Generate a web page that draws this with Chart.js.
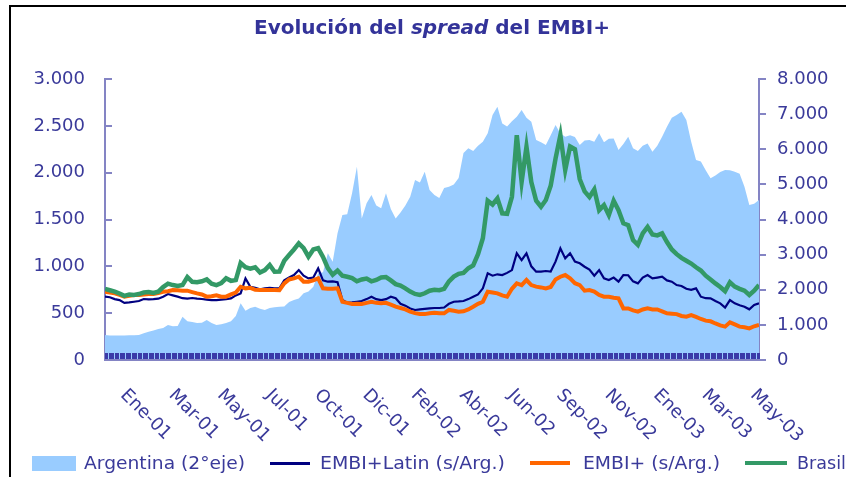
<!DOCTYPE html>
<html>
<head>
<meta charset="utf-8">
<script src="https://cdn.jsdelivr.net/npm/chart.js@4.4.1/dist/chart.umd.min.js"></script>
<style>
  html, body { margin:0; padding:0; background:#fff; overflow:hidden; }
  #wrap { position:relative; width:846px; height:477px; overflow:hidden; }
  #frame { position:absolute; left:9px; top:5px; width:900px; height:600px; border-left:2px solid #000; border-top:2px solid #000; }
  #chartBox { position:absolute; left:0; top:0; width:846px; height:477px; }
  #title { position:absolute; left:0; width:864px; top:15px; text-align:center; font:bold 20px "DejaVu Sans", sans-serif; color:#333399; white-space:nowrap; }
  .lg { position:absolute; font:18px "DejaVu Sans", sans-serif; color:#3a3a9a; white-space:nowrap; top:452px; line-height:22px; transform-origin:0 50%; }
  .sw { position:absolute; }
</style>
</head>
<body>
<div id="wrap">
  <div id="frame"></div>
  <div id="chartBox"><canvas id="c"></canvas></div>
  <div id="title">Evolución del <i>spread</i> del EMBI+</div>
  <div class="sw" style="left:32px;top:456px;width:44px;height:15px;background:#99ccff"></div>
  <span class="lg" data-w="161" style="left:84px">Argentina (2°eje)</span>
  <div class="sw" style="left:270px;top:462px;width:40px;height:3px;background:#000080"></div>
  <span class="lg" data-w="185" style="left:320px">EMBI+Latin (s/Arg.)</span>
  <div class="sw" style="left:530px;top:461px;width:40px;height:4px;background:#ff6600"></div>
  <span class="lg" data-w="137" style="left:583px">EMBI+ (s/Arg.)</span>
  <div class="sw" style="left:745px;top:461px;width:42px;height:4px;background:#339966"></div>
  <span class="lg" data-w="49" style="left:797px">Brasil</span>
</div>
<script>
// ---- Data (weekly readings, Jan-2001 .. May-2003) ----
const xTickLabels = ['Ene-01','Mar-01','May-01','Jul-01','Oct-01','Dic-01','Feb-02','Abr-02','Jun-02','Sep-02','Nov-02','Ene-03','Mar-03','May-03'];
const xTickIndex  = [3,13,23,33,43,53,63,73,83,93,103,113,123,133];

const argentina = [711,700,700,700,700,705,705,710,760,806,840,880,911,996,960,968,1233,1100,1080,1053,
  1060,1138,1050,996,1020,1050,1100,1250,1613,1400,1480,1518,1460,1423,1480,1500,1518,1520,1650,1708,
  1750,1897,1950,2087,2467,2500,3036,2800,3606,4128,4150,4745,5503,4032,4460,4697,4400,4318,4745,4300,
  4032,4200,4400,4650,5124,5050,5360,4839,4700,4612,4900,4933,5000,5180,5892,6026,5950,6100,6214,6452,
  6974,7211,6736,6650,6800,6926,7116,6900,6784,6262,6200,6120,6400,6689,6450,6357,6400,6350,6120,6250,
  6262,6214,6452,6200,6300,6309,5978,6150,6357,6025,5950,6100,6167,5930,6100,6357,6641,6900,6974,7068,
  6832,6214,5693,5650,5400,5172,5250,5350,5408,5400,5361,5300,4933,4412,4450,4554];

const embiLatin = [676,670,650,640,610,615,622,630,651,648,650,655,676,704,690,676,660,655,662,655,
  651,645,640,640,645,650,658,690,711,871,782,770,754,765,770,765,765,850,880,907,
  960,900,871,880,978,850,836,840,830,640,612,615,622,630,650,676,650,640,650,676,
  660,600,580,550,534,540,545,551,555,555,560,600,622,625,630,650,676,700,765,925,
  900,915,907,930,960,1139,1067,1139,1000,943,943,950,945,1050,1192,1085,1139,1050,1032,996,
  965,900,960,871,854,880,836,907,905,840,818,880,907,871,880,889,850,836,800,790,
  760,750,765,676,660,658,630,605,560,640,605,585,569,541,587,605];

const embiPlus = [729,720,711,695,676,685,694,694,700,705,705,715,729,735,747,745,740,740,725,711,
  700,676,680,690,676,676,700,720,782,765,770,750,747,747,747,747,745,818,860,871,
  889,836,836,850,871,765,760,760,765,622,610,598,600,598,610,622,610,605,610,590,
  569,555,540,516,500,491,490,500,505,498,498,534,525,516,520,540,569,600,622,729,
  720,711,690,676,760,818,800,854,800,783,775,765,780,860,889,907,871,820,800,740,
  747,730,694,676,676,665,658,551,551,530,516,540,551,540,540,520,498,495,490,470,
  463,480,460,438,420,413,390,370,356,402,380,356,350,338,360,374];

const brasil = [758,745,730,710,685,700,695,704,720,726,715,730,779,815,800,790,800,886,835,830,
  840,860,815,800,820,872,845,854,1035,990,976,990,935,960,1014,942,945,1060,1120,1180,
  1245,1195,1103,1180,1195,1100,980,910,955,900,889,875,840,860,870,840,855,880,885,850,
  810,795,765,730,705,694,712,740,750,745,760,840,890,920,930,980,1010,1130,1300,1700,
  1660,1725,1566,1560,1743,2400,1900,2277,1900,1700,1636,1708,1860,2150,2400,2028,2280,2250,1930,1800,
  1740,1820,1600,1654,1547,1700,1600,1459,1440,1281,1230,1352,1420,1340,1330,1352,1260,1180,1130,1090,
  1060,1030,990,955,900,860,818,780,735,830,783,760,740,694,740,800];

const seriesNames = ['Argentina (2°eje)','EMBI+Latin (s/Arg.)','EMBI+ (s/Arg.)','Brasil'];

// fit legend text widths to the reference layout
document.querySelectorAll('.lg').forEach(el => {
  const w = el.getBoundingClientRect().width;
  const target = parseFloat(el.dataset.w);
  if (w > 0) el.style.transform = 'scaleX(' + (target / w).toFixed(4) + ')';
});

// ---- helpers ----
const toXY = arr => arr.map((v, i) => ({ x: i, y: v }));
const fmt = v => String(v).replace(/\B(?=(\d{3})+(?!\d))/g, '.');
const AXIS = '#8484c4';
const TXT = '#3a3a9a';
const TICKFONT = { family: 'DejaVu Sans', size: 18 };

const decor = {
  id: 'decor',
  afterDatasetsDraw(chart) {
    const ctx = chart.ctx, xs = chart.scales.x, yl = chart.scales.y, area = chart.chartArea;
    ctx.save();
    // dense category tick marks along the bottom (inside)
    ctx.strokeStyle = '#3a3aa8';
    ctx.lineWidth = 1;
    ctx.beginPath();
    for (let k = 0; k <= 135 * 4; k++) {
      const px = Math.round(xs.getPixelForValue(k / 4)) + 0.5;
      ctx.moveTo(px, area.bottom - 7);
      ctx.lineTo(px, area.bottom);
    }
    ctx.stroke();
    // inward ticks on the left axis
    ctx.strokeStyle = AXIS;
    ctx.lineWidth = 2;
    ctx.beginPath();
    yl.ticks.forEach(t => {
      const py = Math.round(yl.getPixelForValue(t.value));
      ctx.moveTo(area.left, py);
      ctx.lineTo(area.left + 7, py);
    });
    // bottom axis line extended past right axis
    const y0 = Math.round(yl.getPixelForValue(0));
    ctx.moveTo(area.left, y0);
    ctx.lineTo(area.right + 7, y0);
    ctx.stroke();
    // rotated x labels
    ctx.fillStyle = TXT;
    ctx.font = '18px "DejaVu Sans"';
    ctx.textAlign = 'left';
    ctx.textBaseline = 'top';
    xTickIndex.forEach((idx, j) => {
      const px = xs.getPixelForValue(idx);
      ctx.save();
      ctx.translate(px + 10, 386);
      ctx.rotate(Math.PI / 4);
      ctx.fillText(xTickLabels[j], 0, 0);
      ctx.restore();
    });
    ctx.restore();
  }
};

new Chart(document.getElementById('c'), {
  type: 'line',
  data: {
    datasets: [
      { label: seriesNames[1], data: toXY(embiLatin), yAxisID: 'y', borderColor: '#000080', borderWidth: 2.2, pointRadius: 0, tension: 0, order: 3 },
      { label: seriesNames[2], data: toXY(embiPlus), yAxisID: 'y', borderColor: '#ff6600', borderWidth: 4, pointRadius: 0, tension: 0, order: 2 },
      { label: seriesNames[3], data: toXY(brasil), yAxisID: 'y', borderColor: '#339966', borderWidth: 4.5, pointRadius: 0, tension: 0, order: 1 },
      { label: seriesNames[0], data: toXY(argentina), yAxisID: 'y1', borderWidth: 0, borderColor: 'rgba(0,0,0,0)', backgroundColor: '#99ccff', fill: 'origin', pointRadius: 0, tension: 0, order: 4 }
    ]
  },
  options: {
    responsive: true,
    maintainAspectRatio: false,
    animation: false,
    layout: { padding: { top: 79, left: 0, right: 0, bottom: 0 } },
    plugins: { legend: { display: false }, title: { display: false }, tooltip: { enabled: false } },
    scales: {
      x: {
        type: 'linear', min: 0, max: 135,
        grid: { display: false },
        border: { display: false },
        ticks: { display: false },
        afterFit: s => { s.height = 117; }
      },
      y: {
        position: 'left', min: 0, max: 3000,
        ticks: { stepSize: 500, color: TXT, font: TICKFONT, padding: 20, callback: v => fmt(v) },
        grid: { drawOnChartArea: false, drawTicks: false },
        border: { color: AXIS, width: 2 },
        afterFit: s => { s.width = 105; }
      },
      y1: {
        position: 'right', min: 0, max: 8000,
        ticks: { stepSize: 1000, color: TXT, font: TICKFONT, padding: 11, callback: v => fmt(v) },
        grid: { drawOnChartArea: false, drawTicks: true, tickLength: 7, color: AXIS, lineWidth: 2 },
        border: { color: AXIS, width: 2 },
        afterFit: s => { s.width = 87; }
      }
    }
  },
  plugins: [decor]
});
</script>
</body>
</html>
